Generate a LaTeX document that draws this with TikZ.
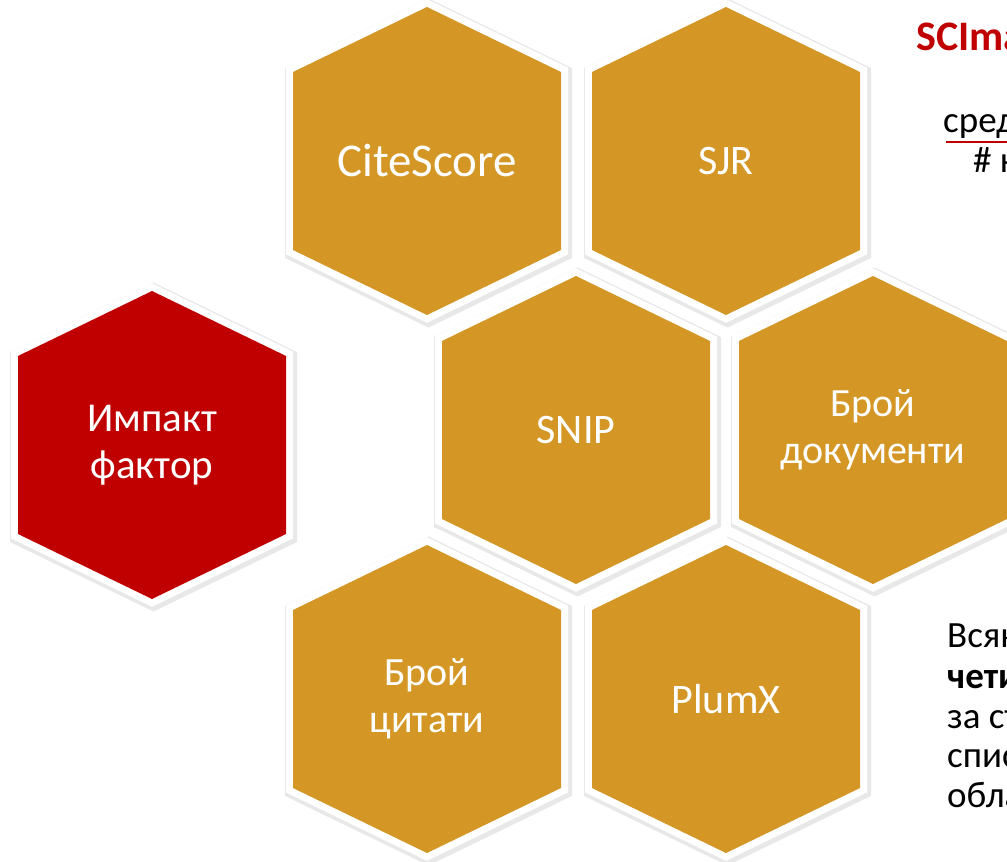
\documentclass[tikz,border=0pt]{standalone}
\usepackage{fontspec}
\setmainfont{Carlito}
\usepackage{xcolor}
\definecolor{hexgold}{RGB}{212,151,38}
\definecolor{hexred}{RGB}{192,0,0}
\newcommand{\hexoutline}[2]{(#1,#2-154) -- (#1+134,#2-89) -- (#1+134,#2+89) -- (#1,#2+154) -- (#1-134,#2+89) -- (#1-134,#2-89) -- cycle}
\tikzset{
  hexshadow/.style={draw=black, line width=19pt, opacity=0.09, line join=miter},
  hexrim/.style={draw=white, line width=14pt, line join=miter},
  hexlabel/.style={text=white, align=center, inner sep=0pt},
  sidetext/.style={anchor=base west, inner sep=0pt, font=\fontsize{37}{44}\selectfont}
}

\begin{document}
\begin{tikzpicture}[x=1pt,y=-1pt]
        \useasboundingbox (0,0) rectangle (1007,862);
        \clip (0,0) rectangle (1007,862);

        \foreach \nm/\cx/\cy/\col/\fs/\txt in {
            cite/427/161/hexgold/47/CiteScore,
            sjr/726/161/hexgold/42/SJR,
            snip/576/430/hexgold/42/SNIP,
            docs/873/430/hexgold/40/{Брой\\документи},
            impact/152/445/hexred/41/{Импакт\\фактор},
            cites/427/699/hexgold/40/{Брой\\цитати},
            plumx/726/699/hexgold/42/PlumX}{
            \draw[hexshadow, xshift=1.5pt, yshift=-2pt] \hexoutline{\cx}{\cy};
            \draw[hexrim] \hexoutline{\cx}{\cy};
            \fill[\col] \hexoutline{\cx}{\cy};
            \node[hexlabel, font=\fontsize{\fs}{47}\selectfont] (\nm) at (\cx,\cy) {\txt};
        }

        \node[anchor=base west, inner sep=0pt, text=hexred, font=\bfseries\fontsize{42}{50}\selectfont] (sjrtitle) at (916,50) {SCImago};
        \node[sidetext] (ratiotop) at (943,132) {средно};
        \node[sidetext] (ratiobot) at (973,172) {\# на};
        \coordinate (barstart) at (946,142);
        \coordinate (barend) at (1030,142);
        \draw[hexred, line width=2.5pt] (barstart) -- (barend);

        \node[sidetext] (note1) at (947,647) {Всяко};
        \node[sidetext, font=\bfseries\fontsize{37}{44}\selectfont] (note2) at (947,688) {четири};
        \node[sidetext] (note3) at (947,728) {за съответната};
        \node[sidetext] (note4) at (947,767) {списание};
        \node[sidetext] (note5) at (947,807) {област};
\end{tikzpicture}
\end{document}
